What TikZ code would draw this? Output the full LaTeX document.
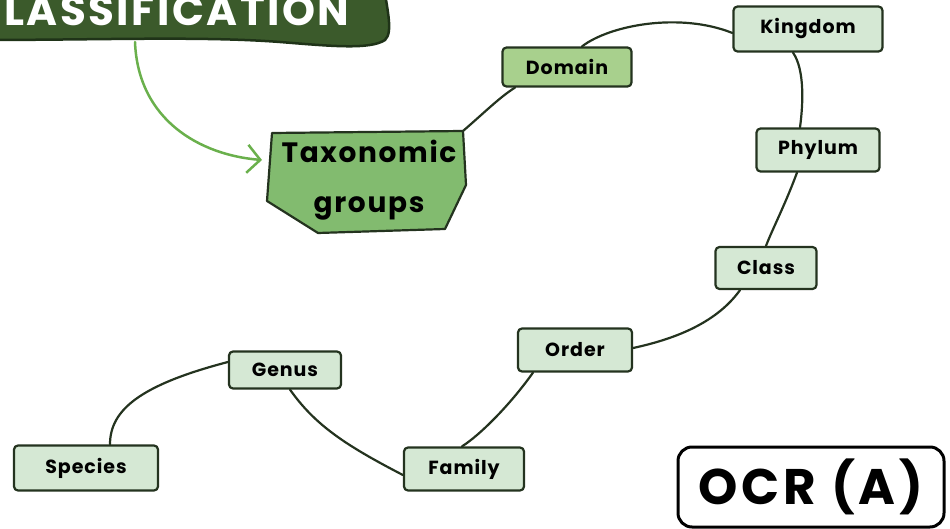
\documentclass[tikz,border=0pt]{standalone}
\usepackage{fontspec}
\setmainfont{Poppins}
\usetikzlibrary{arrows.meta}
\definecolor{dkgreen}{HTML}{3B5A2B}
\definecolor{dkedge}{HTML}{1F3318}
\definecolor{arrowgreen}{HTML}{6AB04C}
\definecolor{midgreen}{HTML}{82BB6F}
\definecolor{domgreen}{HTML}{A8D08D}
\definecolor{lightgreen}{HTML}{D5E8D4}
\definecolor{edgecol}{HTML}{24331F}
\tikzset{
  lbox/.style={draw=edgecol, line width=2.2pt, rounded corners=4pt, fill=lightgreen, font=\bfseries\fontsize{19}{22}\selectfont\addfontfeatures{LetterSpace=5}, inner sep=0pt},
  conn/.style={draw=edgecol, line width=2.2pt, line cap=round}
}
\begin{document}
\begin{tikzpicture}[x=1pt,y=-1pt]
\useasboundingbox (0,0) rectangle (950,529);
\clip (0,0) rectangle (950,529);
% title banner
\fill[dkgreen, draw=dkedge, line width=2.5pt] (-20,-20) -- (383,-20) .. controls (386,5) and (394,32) .. (385,40)
  .. controls (370,50) and (330,46) .. (280,42) .. controls (200,36) and (100,40) .. (-20,40) -- cycle;
\node[text=white, font=\bfseries\fontsize{42}{46}\selectfont\addfontfeatures{LetterSpace=6}, anchor=east] (title) at (353,11) {CLASSIFICATION};
% Taxonomic groups polygon
\coordinate (taxc) at (463,131);
\filldraw[fill=midgreen, draw=edgecol, line width=2.2pt, line join=round] (272,133) -- (taxc) -- (466,185) -- (445,229) -- (318,233) -- (267,201) -- cycle;
\node[align=center, font=\bfseries\fontsize{28}{50}\selectfont\addfontfeatures{LetterSpace=6}] (tax) at (369,180) {Taxonomic\\groups};
\coordinate (arrowend) at (262,160);
\draw[arrowgreen, line width=2.5pt, line cap=round, -{Straight Barb[length=13pt,width=28pt,line width=2.5pt]}] (135,42) .. controls (138,120) and (200,155) .. (arrowend);
% boxes
\node[lbox, fill=domgreen, minimum width=129, minimum height=39] (domain) at (567,67) {Domain};
\node[lbox, minimum width=149, minimum height=45] (kingdom) at (808,29) {Kingdom};
\node[lbox, minimum width=123, minimum height=43] (phylum) at (818,150) {Phylum};
\node[lbox, minimum width=101, minimum height=42] (class) at (766,268) {Class};
\node[lbox, minimum width=114, minimum height=43] (order) at (575,350) {Order};
\node[lbox, minimum width=112, minimum height=37] (genus) at (285,370) {Genus};
\node[lbox, minimum width=120, minimum height=43] (family) at (464,469) {Family};
\node[lbox, minimum width=144, minimum height=45] (species) at (86,468) {Species};
\node[draw=black, line width=3pt, rounded corners=14pt, fill=white, minimum width=266, minimum height=80, font=\bfseries\fontsize{50}{60}\selectfont\addfontfeatures{LetterSpace=8}, inner sep=0pt] (ocr) at (811,487) {OCR (A)};
% connectors
\draw[conn] (taxc) .. controls (485,112) and (500,97) .. ([xshift=-52pt]domain.south);
\draw[conn] ([xshift=15pt]domain.north) .. controls (610,25) and (680,12) .. ([yshift=-4pt]kingdom.west);
\draw[conn] ([xshift=-15pt]kingdom.south) .. controls (805,70) and (803,105) .. ([xshift=-18pt]phylum.north);
\draw[conn] ([xshift=-21pt]phylum.south) .. controls (785,205) and (772,230) .. (class.north);
\draw[conn] ([xshift=-26pt]class.south) .. controls (715,325) and (670,340) .. ([yshift=2pt]order.east);
\draw[conn] ([xshift=-42pt]order.south) .. controls (510,405) and (480,435) .. ([xshift=-2pt]family.north);
\draw[conn] ([yshift=-6pt]family.west) .. controls (345,445) and (315,425) .. ([xshift=5pt]genus.south);
\draw[conn] ([yshift=8pt]genus.west) .. controls (140,385) and (110,410) .. ([xshift=24pt]species.north);
\end{tikzpicture}
\end{document}
